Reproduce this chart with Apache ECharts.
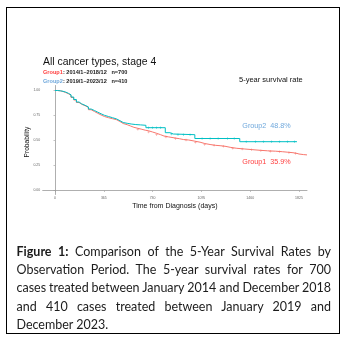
<!DOCTYPE html>
<html>
<head>
<meta charset="utf-8">
<script src="https://cdn.jsdelivr.net/npm/echarts@6/dist/echarts.min.js"></script>
<style>
  html, body { margin: 0; padding: 0; background: #fff; }
  #wrap { position: relative; width: 346px; height: 337px; overflow: hidden; }
  #chart { position: absolute; left: 0; top: 0; width: 346px; height: 337px; }
  #frame { position: absolute; left: 6px; top: 6.5px; width: 334px; height: 327px;
           box-sizing: border-box; border: 1.5px solid #000; pointer-events: none; }
  #caption { position: absolute; left: 16.5px; top: 242.8px; width: 314.5px;
             font-family: Lato, "Noto Sans", sans-serif; font-size: 12.5px; color: #1c1c1c; }
  #caption div { height: 18.3px; line-height: 18.3px; white-space: nowrap; }
  #caption b { font-weight: 700; }
</style>
</head>
<body>
<div id="wrap">
  <div id="chart"></div>
  <div id="frame"></div>
  <div id="caption">
    <div class="j"><b>Figure 1:</b> Comparison of the 5-Year Survival Rates by</div>
    <div class="j">Observation Period. The 5-year survival rates for 700</div>
    <div class="j">cases treated between January 2014 and December 2018</div>
    <div class="j">and 410 cases treated between January 2019 and</div>
    <div>December 2023.</div>
  </div>
</div>
<script>
// Kaplan-Meier estimates: [day, survival probability]
const group1Curve = [
  [0, 1.000], [20, 0.997], [40, 0.990], [60, 0.980], [80, 0.968], [100, 0.952],
  [120, 0.930], [140, 0.905], [160, 0.880], [180, 0.862], [200, 0.848], [225, 0.830],
  [250, 0.808], [270, 0.790], [295, 0.772], [320, 0.755], [345, 0.740], [370, 0.728],
  [400, 0.718], [430, 0.708], [460, 0.690], [486, 0.670], [510, 0.658], [540, 0.645],
  [565, 0.632], [590, 0.622], [620, 0.612], [650, 0.603], [675, 0.597], [700, 0.585],
  [730, 0.572], [760, 0.558], [790, 0.545], [815, 0.536], [850, 0.527], [890, 0.518],
  [930, 0.510], [960, 0.505], [1000, 0.495], [1040, 0.483], [1085, 0.470], [1120, 0.460],
  [1160, 0.452], [1200, 0.448], [1235, 0.443], [1270, 0.432], [1310, 0.422], [1360, 0.415],
  [1420, 0.408], [1480, 0.402], [1535, 0.397], [1590, 0.393], [1650, 0.388], [1700, 0.383],
  [1740, 0.378], [1780, 0.371], [1810, 0.365], [1825, 0.359], [1860, 0.356], [1885, 0.352]
];
const group2Curve = [
  [0, 1.000], [20, 0.997], [40, 0.992], [60, 0.984], [80, 0.972], [100, 0.957],
  [120, 0.935], [140, 0.910], [160, 0.885], [180, 0.866], [200, 0.852], [225, 0.836],
  [250, 0.815], [270, 0.800], [295, 0.783], [320, 0.767], [345, 0.752], [370, 0.740],
  [400, 0.728], [430, 0.716], [460, 0.698], [486, 0.680], [510, 0.672], [540, 0.665],
  [570, 0.660], [600, 0.656], [640, 0.652], [680, 0.628], [825, 0.578], [860, 0.565],
  [885, 0.558], [1046, 0.520], [1382, 0.488], [1810, 0.488]
];
// Censoring times (days)
const group1Censored = [620, 700, 760, 830, 900, 980, 1050, 1120, 1190, 1260, 1330, 1400, 1470, 1540, 1610, 1680, 1750, 1800];
const group2Censored = [700, 730, 760, 790, 870, 920, 960, 1010, 1100, 1160, 1220, 1290, 1340, 1430, 1500, 1560, 1620, 1680, 1740, 1790];

const xTicks = [0, 365, 730, 1095, 1460, 1825];
const yTicks = [0, 0.25, 0.5, 0.75, 1.0];

const fiveYearRate = { group1: 35.9, group2: 48.8 };
const groupInfo = {
  group1: { name: 'Group1', period: '2014/1–2018/12', n: 700 },
  group2: { name: 'Group2', period: '2019/1–2023/12', n: 410 }
};

const RED = '#F8766D', TEAL = '#00BFC4';
const RED_TXT = '#ff3d3d', BLUE_TXT = '#6fa8dc';
const FONT = '"Liberation Sans", Arial, sans-serif';

// Spread the words of each caption line across the full column width
const CAPTION_W = 314.5;
document.querySelectorAll('#caption div.j').forEach(line => {
  line.style.display = 'inline-block';
  const natural = line.getBoundingClientRect().width;
  line.style.display = 'block';
  const gaps = line.textContent.trim().split(/\s+/).length - 1;
  line.style.wordSpacing = ((CAPTION_W - natural) / gaps) + 'px';
});

// survival value of a step curve at time t
function survAt(curve, t) {
  let v = curve[0][1];
  for (const p of curve) { if (p[0] <= t) v = p[1]; else break; }
  return v;
}

const plus = 'path://M4,0h2v4h4v2h-4v4h-2v-4h-4v-2h4z';

const chart = echarts.init(document.getElementById('chart'), null, { renderer: 'canvas' });
chart.setOption({
  animation: false,
  backgroundColor: '#fff',
  textStyle: { fontFamily: FONT },
  grid: { left: 42.7, right: 39, top: 85.5, bottom: 142.5, containLabel: false },
  xAxis: {
    type: 'value', min: -92, max: 1885,
    name: 'Time from Diagnosis (days)', nameLocation: 'middle', nameGap: 8.5,
    nameTextStyle: { fontSize: 7, color: '#111', fontFamily: FONT },
    axisLine: { show: true, lineStyle: { color: '#9a9a9a', width: 0.8 } },
    axisTick: { show: true, length: 1.5, lineStyle: { color: '#9a9a9a', width: 0.6 }, customValues: xTicks },
    axisLabel: { fontSize: 3.5, color: '#666', margin: 1.5, customValues: xTicks, formatter: v => String(v) },
    splitLine: { show: false }
  },
  yAxis: {
    type: 'value', min: -0.04, max: 1.05,
    axisLine: { show: true, lineStyle: { color: '#9a9a9a', width: 0.8 } },
    axisTick: { show: true, length: 1.5, lineStyle: { color: '#9a9a9a', width: 0.6 }, customValues: yTicks },
    axisLabel: { fontSize: 3.5, color: '#666', margin: 2.5, customValues: yTicks, formatter: v => v.toFixed(2) },
    splitLine: { show: false }
  },
  series: [
    { type: 'line', name: 'Group1', data: group1Curve, step: 'end', symbol: 'none',
      lineStyle: { color: RED, width: 1 }, z: 2 },
    { type: 'line', name: 'Group2', data: group2Curve, step: 'end', symbol: 'none',
      lineStyle: { color: TEAL, width: 1 }, z: 3 },
    { type: 'scatter', data: group1Censored.map(t => [t, survAt(group1Curve, t)]),
      symbol: plus, symbolSize: 2.6, itemStyle: { color: RED }, z: 4 },
    { type: 'scatter', data: group2Censored.map(t => [t, survAt(group2Curve, t)]),
      symbol: plus, symbolSize: 2.6, itemStyle: { color: TEAL }, z: 5 }
  ],
  graphic: [
    { type: 'text', x: 27.5, y: 142, rotation: Math.PI / 2, style: { text: 'Probability', font: '6.6px ' + FONT,
      fill: '#111', textAlign: 'center', textVerticalAlign: 'middle' } },
    { type: 'text', x: 43, y: 61.7, style: { text: 'All cancer types, stage 4', font: '10.4px ' + FONT,
      fill: '#111', textVerticalAlign: 'middle' } },
    { type: 'text', x: 43, y: 72.7, style: {
      text: '{g|' + groupInfo.group1.name + '}: ' + groupInfo.group1.period + '   n=' + groupInfo.group1.n,
      font: 'bold 5.6px ' + FONT, fill: '#222', textVerticalAlign: 'middle',
      rich: { g: { fill: RED_TXT, font: 'bold 5.6px ' + FONT } } } },
    { type: 'text', x: 43, y: 81, style: {
      text: '{g|' + groupInfo.group2.name + '}: ' + groupInfo.group2.period + '   n=' + groupInfo.group2.n,
      font: 'bold 5.6px ' + FONT, fill: '#222', textVerticalAlign: 'middle',
      rich: { g: { fill: BLUE_TXT, font: 'bold 5.6px ' + FONT } } } },
    { type: 'text', x: 239, y: 80, style: { text: '5-year survival rate', font: '7.5px ' + FONT,
      fill: '#111', textVerticalAlign: 'middle' } },
    { type: 'text', x: 242.3, y: 125.7, style: {
      text: groupInfo.group2.name + '  ' + fiveYearRate.group2.toFixed(1) + '%', font: '7.2px ' + FONT,
      fill: BLUE_TXT, textVerticalAlign: 'middle' } },
    { type: 'text', x: 242.3, y: 161.7, style: {
      text: groupInfo.group1.name + '  ' + fiveYearRate.group1.toFixed(1) + '%', font: '7.2px ' + FONT,
      fill: RED_TXT, textVerticalAlign: 'middle' } }
  ]
});
</script>
</body>
</html>
